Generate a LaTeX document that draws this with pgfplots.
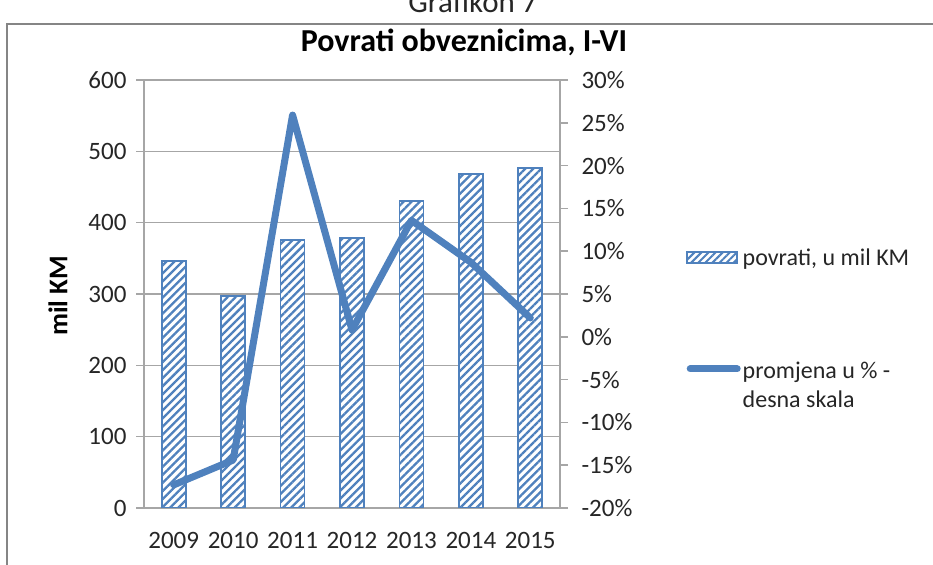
\documentclass[border=0pt]{standalone}
\usepackage{fontspec}
\setmainfont{Carlito}
\usepackage{pgfplots}
\pgfplotsset{compat=1.18}
\usetikzlibrary{patterns.meta}
\definecolor{barblue}{HTML}{4F81BD}
\definecolor{gridgray}{HTML}{A6A6A6}
\definecolor{framegray}{HTML}{858585}
\definecolor{txt}{HTML}{262626}

\begin{document}
\begin{tikzpicture}[x=1bp,y=1bp]
\useasboundingbox (0,0) rectangle (933,565);
% outer frame and titles
\draw[framegray, line width=1.5bp] (7,-5) -- (7,541) -- (940,541);
\node[anchor=base, font=\fontsize{31bp}{36bp}\selectfont, text=txt] at (473,552) {Grafikon 7};
\node[font=\fontsize{32bp}{36bp}\selectfont\bfseries, text=black] at (464,523) {Povrati obveznicima, I-VI};
\node[rotate=90, font=\fontsize{27bp}{30bp}\selectfont\bfseries, text=black] at (58,269) {mil KM};

\pgfplotsset{
  every axis/.append style={
    at={(144bp,57bp)}, anchor=south west,
    scale only axis, width=416bp, height=428bp,
    xmin=-0.5, xmax=6.5,
    axis line style={gridgray, line width=1.5bp},
    tick style={gridgray, line width=1.5bp},
    major tick length=8bp, tick align=outside,
    ticklabel style={font=\fontsize{25bp}{30bp}\selectfont, text=txt},
    /pgf/number format/assume math mode=true,
  },
}

% bars, left scale
\begin{axis}[
  axis x line*=bottom, axis y line*=left,
  ymin=0, ymax=600, ytick={0,100,...,600},
  ymajorgrids, grid style={gridgray, line width=1.5bp},
  xtick={0,...,6}, xticklabels={2009,2010,2011,2012,2013,2014,2015},
  major x tick style={draw=none},
  xticklabel style={yshift=-13bp},
  extra x ticks={-0.5,0.5,...,6.5}, extra x tick labels={},
  extra x tick style={grid=none, major x tick style={gridgray, line width=1.5bp}},
  yticklabel style={xshift=-6bp},
]
\addplot[ybar, bar width=24bp, draw=barblue, line width=1.8bp,
  preaction={fill=white},
  pattern={Lines[angle=45,distance=5.7bp,line width=2.3bp]}, pattern color=barblue]
  coordinates {(0,346)(1,297)(2,376)(3,379)(4,430)(5,468)(6,477)};
\end{axis}

% line, right scale
\begin{axis}[
  axis x line=none, axis y line*=right,
  ymin=-20, ymax=30, ytick={-20,-15,...,30},
  yticklabel={\pgfmathprintnumber{\tick}\%},
  yticklabel style={xshift=10bp},
  legend style={at={(1.2957,0.615)}, anchor=north west, draw=none, fill=none,
    font=\fontsize{24bp}{29bp}\selectfont, text=txt, row sep=87bp,
    /tikz/every even column/.append style={column sep=4bp}},
  legend cell align=left,
]
\addlegendimage{legend image code/.code={
  \draw[draw=barblue, line width=1.8bp, preaction={fill=white},
    pattern={Lines[angle=45,distance=5bp,line width=2bp]}, pattern color=barblue]
    (0bp,-5bp) rectangle (50bp,6bp);}}
\addlegendentry{povrati, u mil KM}
\addplot[barblue, line width=7bp, line join=round, line cap=round,
  legend image code/.code={\draw[barblue, line width=7bp, line cap=round] (3bp,0bp) -- (50bp,0bp);}]
  coordinates {(0,-17.3)(1,-14.4)(2,25.9)(3,0.8)(4,13.6)(5,8.7)(6,2.2)};
\addlegendentry{\begin{tabular}[t]{@{}l@{}}promjena u \% -\\desna skala\end{tabular}}
\end{axis}
\end{tikzpicture}
\end{document}
